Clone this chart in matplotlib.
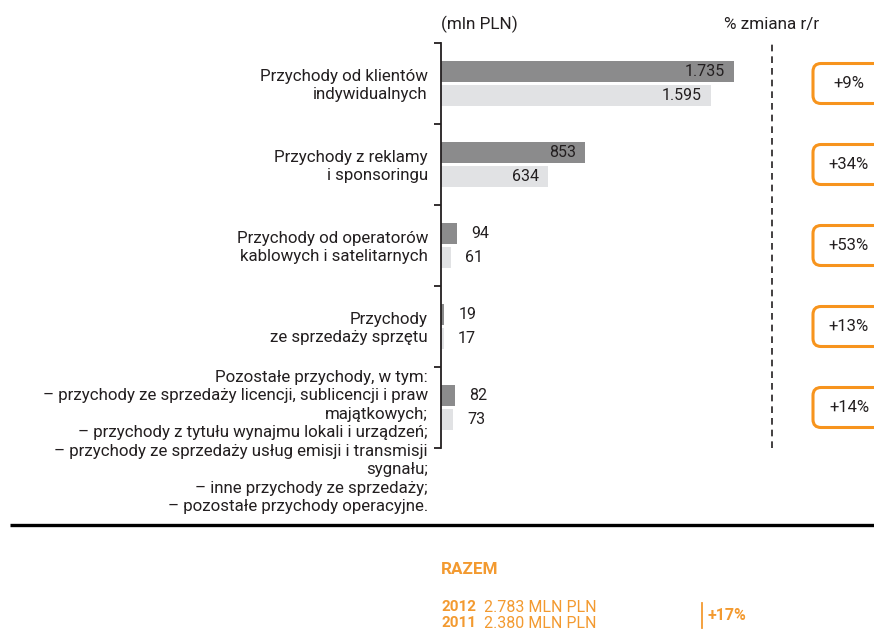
import matplotlib.pyplot as plt
from matplotlib.patches import FancyBboxPatch

plt.rcParams['font.family'] = ['Roboto', 'DejaVu Sans']

# ---------------------------------------------------------
# DATA
# ---------------------------------------------------------
categories = [
    "Przychody od klientów\nindywidualnych",
    "Przychody z reklamy\ni sponsoringu",
    "Przychody od operatorów\nkablowych i satelitarnych",
    "Przychody\nze sprzedaży sprzętu",
    "Pozostałe przychody, w tym:\n"
    "– przychody ze sprzedaży licencji, sublicencji i praw\n"
    "majątkowych;\n"
    "– przychody z tytułu wynajmu lokali i urządzeń;\n"
    "– przychody ze sprzedaży usług emisji i transmisji\n"
    "sygnału;\n"
    "– inne przychody ze sprzedaży;\n"
    "– pozostałe przychody operacyjne.",
]
values_2012 = [1735, 853, 94, 19, 82]
values_2011 = [1595, 634, 61, 17, 73]
change_pct = ["+9%", "+34%", "+53%", "+13%", "+14%"]

total_years = ["2012", "2011"]
total_values = [2783, 2380]
total_change = "+17%"

DARK = "#8b8b8c"
LIGHT = "#e1e2e4"
TEXT = "#231f20"
ORANGE = "#f7941d"
ORANGE_TXT = "#f39a30"

W, H = 874, 632
LABEL_FS = 12.2


def fmt(v):
    return f"{v:,}".replace(",", ".")


fig = plt.figure(figsize=(W / 100, H / 100), dpi=100)

# main bar axes (pixel box: x 441..874, y 43..448)
ax = fig.add_axes([441 / W, (H - 448) / H, (W - 441) / W, (448 - 43) / H])
ax.patch.set_alpha(0)
ax.set_xlim(0, (W - 441) / 0.169)
ax.set_ylim(len(categories) - 0.5, -0.5)

bar_h = 0.26
off = 0.148
idx = list(range(len(categories)))
y_dark = [i - off for i in idx]
y_light = [i + off for i in idx]
ax.barh(y_dark, values_2012, height=bar_h, color=DARK, zorder=2)
ax.barh(y_light, values_2011, height=bar_h, color=LIGHT, zorder=2)

inside_limit = 300
for y, v in list(zip(y_dark, values_2012)) + list(zip(y_light, values_2011)):
    if v > inside_limit:
        ax.annotate(fmt(v), xy=(v, y), xytext=(-9, 0), textcoords="offset pixels",
                    ha="right", va="center", fontsize=11.5, color=TEXT)
    else:
        ax.annotate(fmt(v), xy=(v, y), xytext=(14, 0), textcoords="offset pixels",
                    ha="left", va="center", fontsize=11.5, color=TEXT)

# category labels
for i, lab in enumerate(categories):
    if lab.count("\n") > 2:
        ax.annotate(lab, xy=(0, i - 0.5), xytext=(-13, -3), textcoords="offset pixels",
                    ha="right", va="top", multialignment="right", fontsize=LABEL_FS,
                    linespacing=1.29, color=TEXT, annotation_clip=False)
    else:
        ax.annotate(lab, xy=(0, i), xytext=(-13, -2), textcoords="offset pixels",
                    ha="right", va="center", multialignment="right", fontsize=LABEL_FS,
                    linespacing=1.2, color=TEXT, annotation_clip=False)

# axis styling
for s in ["top", "right", "bottom"]:
    ax.spines[s].set_visible(False)
ax.spines["left"].set_linewidth(1.3)
ax.spines["left"].set_color(TEXT)
ax.set_yticks([i - 0.5 for i in range(len(categories) + 1)])
ax.set_yticklabels([])
ax.tick_params(axis="y", direction="out", length=5, width=1.3, color=TEXT)
ax.set_xticks([])

# dashed separator
ax.plot([0.764, 0.764], [0, 1], transform=ax.transAxes, color=TEXT,
        lw=1.2, ls=(0, (4, 3)), clip_on=False)

# ---------------------------------------------------------
# overlay in pixel coordinates for decorations
# ---------------------------------------------------------
ov = fig.add_axes([0, 0, 1, 1], zorder=3)
ov.set_xlim(0, W)
ov.set_ylim(H, 0)
ov.axis("off")

ov.text(441, 24, "(mln PLN)", ha="left", va="center", fontsize=12.3, color=TEXT)
ov.text(724, 24, "% zmiana r/r", ha="left", va="center", fontsize=12.3, color=TEXT)

# change boxes, aligned with each category
for i, txt in enumerate(change_pct):
    y_px = H - ax.transData.transform((0, i))[1]
    box = FancyBboxPatch((813, y_px - 20), 74, 40,
                         boxstyle="round,pad=0,rounding_size=8",
                         fc="white", ec=ORANGE, lw=2.2, clip_on=False)
    ov.add_patch(box)
    ov.text(849, y_px, txt, ha="center", va="center", fontsize=12, color=TEXT)

# thick separator line
ov.plot([10, W], [525, 525], color="black", lw=2.4, solid_capstyle="butt")

# totals
ov.text(441, 569, "RAZEM", ha="left", va="center", fontsize=12.3,
        fontweight="bold", color=ORANGE_TXT)
for k, (yr, v) in enumerate(zip(total_years, total_values)):
    yy = 607 + k * 16
    ov.text(441, yy, yr, ha="left", va="center", fontsize=11,
            fontweight="bold", color=ORANGE_TXT)
    ov.text(484, yy, f"{fmt(v)} MLN PLN", ha="left", va="center", fontsize=11.5,
            color=ORANGE_TXT)
ov.plot([702, 702], [603, 628], color=ORANGE_TXT, lw=1.3)
ov.text(708, 616, total_change, ha="left", va="center", fontsize=11.5,
        fontweight="bold", color=ORANGE_TXT)

plt.savefig("out.png", dpi=100, facecolor="white")
plt.close()
